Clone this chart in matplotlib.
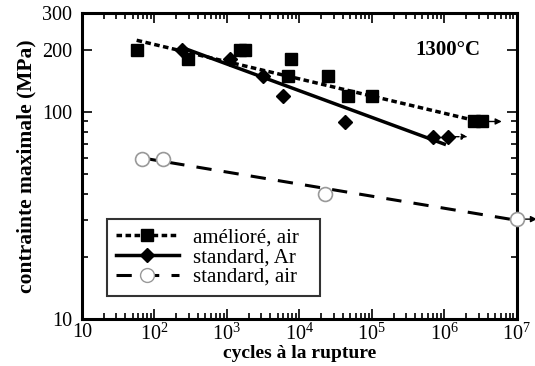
import matplotlib.pyplot as plt
import numpy as np

plt.rcParams['font.family'] = ['Liberation Serif', 'DejaVu Serif']
plt.rcParams['mathtext.fontset'] = 'custom'
plt.rcParams['mathtext.rm'] = 'Liberation Serif'

# amélioré, air (carrés)
am_x = [57, 288, 1500, 1800, 6900, 7600, 24500, 47000, 100000, 2.6e6, 3.3e6]
am_y = [200, 180, 200, 200, 149, 180, 150, 119, 119, 90, 90]
am_fit_x = [57, 3.0e6]
am_fit_y = [222, 90]

# standard, Ar (losanges)
ar_x = [240, 1100, 3160, 5900, 43000, 690000, 1.12e6]
ar_y = [200, 180, 149, 119, 89.5, 75.7, 76]
ar_fit_x = [240, 1.0e6]
ar_fit_y = [205, 70]

# standard, air (cercles)
sa_x = [68, 131, 22300, 1.0e7]
sa_y = [59.3, 59.3, 40.2, 30.4]
sa_fit_x = [68, 1.0e7]
sa_fit_y = [60, 30]

fig = plt.figure(figsize=(5.35, 3.66), dpi=100)
ax = fig.add_axes([0.153, 0.128, 0.813, 0.836])

dot = (0, (1.6, 1.0))
dash = (0, (5, 4))

def fleche(x0, x1, y, ls='-'):
    ax.annotate('', xy=(x1, y), xytext=(x0, y), annotation_clip=False,
                arrowprops=dict(arrowstyle='-|>', color='black', lw=1.0,
                                linestyle=ls, mutation_scale=9,
                                shrinkA=0, shrinkB=0))

ax.plot(am_fit_x, am_fit_y, color='black', lw=2.5, linestyle=dot)
ax.plot(am_x, am_y, 's', color='black', ms=8.5, linestyle='none')
fleche(3.6e6, 6.2e6, 90)

ax.plot(ar_fit_x, ar_fit_y, color='black', lw=2.5)
ax.plot(ar_x, ar_y, 'D', color='black', ms=7, linestyle='none')
fleche(1.4e6, 2.1e6, 76, ls=(0, (3, 4)))

ax.plot(sa_fit_x, sa_fit_y, color='black', lw=2.2, linestyle=dash)
ax.plot(sa_x, sa_y, 'o', mfc='white', mec='#999999', ms=10, mew=1.2,
        linestyle='none', clip_on=False, zorder=5)
fleche(1.2e7, 1.9e7, 30.4)

ax.set_xscale('log')
ax.set_yscale('log')
ax.set_xlim(10, 1e7)
ax.set_ylim(10, 300)

ax.set_xticks([10, 1e2, 1e3, 1e4, 1e5, 1e6, 1e7])
ax.set_xticklabels(['10', r'$10^2$', r'$10^3$', r'$10^4$', r'$10^5$',
                    r'$10^6$', r'$10^7$'])
ax.set_yticks([10, 100, 200, 300])
ax.set_yticklabels(['10', '100', '200', '300'])
ax.yaxis.set_minor_locator(plt.matplotlib.ticker.LogLocator(subs=np.arange(2, 10)))
ax.yaxis.set_minor_formatter(plt.NullFormatter())

ax.tick_params(which='both', direction='in', top=True, right=True,
               labelsize=14.5, width=1.2)
ax.tick_params(which='major', length=7)
ax.tick_params(which='minor', length=4)
ax.tick_params(axis='y', pad=7)
ax.tick_params(axis='x', pad=3)
for s in ax.spines.values():
    s.set_linewidth(2.2)

ax.set_xlabel('cycles à la rupture', fontsize=14, fontweight='bold', labelpad=0)
ax.set_ylabel('contrainte maximale (MPa)', fontsize=15.5, fontweight='bold',
              labelpad=4)

ax.text(0.841, 0.879, '1300°C', transform=ax.transAxes, fontsize=15,
        fontweight='bold', ha='center', va='center')

h1, = ax.plot([], [], color='black', lw=2.5, linestyle=dot, marker='s', ms=8.5)
h2, = ax.plot([], [], color='black', lw=2.5, marker='D', ms=7)
h3, = ax.plot([], [], color='black', lw=2.2, linestyle=dash, marker='o',
              mfc='white', mec='#999999', ms=10)
leg = ax.legend([h1, h2, h3], ['amélioré, air', 'standard, Ar', 'standard, air'],
                loc='lower left', bbox_to_anchor=(0.057, 0.075, 0.49, 0.2),
                mode='expand', fontsize=15,
                frameon=True, fancybox=False, edgecolor='black',
                handlelength=3, labelspacing=0.0, borderpad=0.45,
                handletextpad=0.7, borderaxespad=0)
leg.get_frame().set_linewidth(1.5)

fig.savefig('out.png', dpi=100)
